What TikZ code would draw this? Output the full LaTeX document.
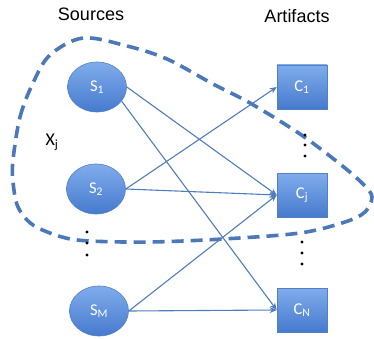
\documentclass[tikz,border=0pt]{standalone}
\usepackage{fontspec}
\setmainfont{Liberation Sans}
\newfontfamily\bodyfont{Carlito}
\usetikzlibrary{arrows.meta,shapes.geometric}

\definecolor{nodetop}{RGB}{128,172,236}
\definecolor{nodebot}{RGB}{70,122,206}
\definecolor{nodeedge}{RGB}{82,128,196}
\definecolor{linkblue}{RGB}{79,125,190}
\definecolor{loopblue}{RGB}{74,120,184}

\tikzset{
  srcnode/.style={ellipse, minimum width=59pt, minimum height=50pt, inner sep=0pt,
    top color=nodetop, bottom color=nodebot, draw=nodeedge, line width=0.6pt,
    text=white, font=\bodyfont\fontsize{16.5}{18}\selectfont},
  artnode/.style={rectangle, minimum width=50pt, minimum height=44pt, inner sep=0pt,
    top color=nodetop, bottom color=nodebot, draw=nodeedge, line width=0.6pt,
    text=white, font=\bodyfont\fontsize{16.5}{18}\selectfont},
  link/.style={draw=linkblue, line width=1.1pt, -{Stealth[length=7pt,width=6pt]}},
  heading/.style={font=\fontsize{18}{20}\selectfont, text=black},
  vdots/.style={circle, fill=black, inner sep=0pt, minimum size=3.2pt},
  grouploop/.style={draw=loopblue, line width=3.6pt, dash pattern=on 12pt off 7pt}
}

\begin{document}
\begin{tikzpicture}[x=1pt, y=-1pt]
  \useasboundingbox (0,0) rectangle (374,339);

  % headings
  \node[heading] (srchead) at (91,14) {Sources};
  \node[heading] (arthead) at (297,16) {Artifacts};

  % group boundary X_j
  \draw[grouploop] plot[smooth cycle, tension=0.55] coordinates {
    (13,160) (20,117) (33,83) (50,55) (83,38) (127,46) (167,59) (213,84)
    (250,103) (300,134) (340,164) (363,184) (372,197) (365,212) (345,222)
    (300,233) (223,239) (150,242) (90,241) (62,237) (33,225) (18,207) (13,182)};
  \node[font=\bodyfont\fontsize{18}{20}\selectfont] (xj) at (52,142) {X\textsubscript{j}};

  % sources
  \node[srcnode] (s1) at (97,87) {S\textsubscript{1}};
  \node[srcnode] (s2) at (96,189) {S\textsubscript{2}};
  \node[srcnode] (sm) at (99,311) {S\textsubscript{M}};

  % artifacts
  \node[artnode] (c1) at (302,87) {C\textsubscript{1}};
  \node[artnode] (cj) at (302,195) {C\textsubscript{j}};
  \node[artnode] (cn) at (302,310) {C\textsubscript{N}};

  % ellipsis dots
  \foreach \yy [count=\i] in {135,145,156} \node[vdots] (da\i) at (305,\yy) {};
  \foreach \yy [count=\i] in {242,253,264} \node[vdots] (db\i) at (302,\yy) {};
  \foreach \yy [count=\i] in {232,243,255} \node[vdots] (dc\i) at (87,\yy) {};

  % links
  \draw[link] (s1.east) -- (cj.west);
  \draw[link] (s1.-30) -- (cn.west);
  \draw[link] (s2.east) -- (c1.west);
  \draw[link] (s2.east) -- (cj.west);
  \draw[link] (sm.east) -- (cj.west);
  \draw[link] (sm.east) -- (cn.west);
\end{tikzpicture}
\end{document}
